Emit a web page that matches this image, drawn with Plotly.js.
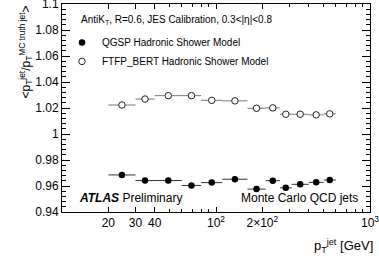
<!DOCTYPE html>
<html>
<head>
<meta charset="utf-8">
<script src="https://cdn.plot.ly/plotly-3.0.1.min.js"></script>
<style>html,body{margin:0;padding:0;background:#fff;}#chart{width:379px;height:260px;}</style>
</head>
<body>
<div id="chart"></div>
<script>
// Bin edges in pT [GeV]
const binLow  = [20, 30, 40, 60, 80, 110, 160, 210, 260, 310, 400, 500];
const binHigh = [30, 40, 60, 80, 110, 160, 210, 260, 310, 400, 500, 600];
// Bin centres
const ptCentre = [24.5, 34.6, 49, 69.3, 93.8, 132.7, 183.3, 233.7, 283.9, 352.1, 447.2, 547.7];
// QGSP hadronic shower model response
const qgsp = [0.9685, 0.9642, 0.9642, 0.9604, 0.9626, 0.9652, 0.9576, 0.9641, 0.9586, 0.9613, 0.9628, 0.9646];
const qgspErr = [0.0022, 0.0012, 0.0010, 0.0010, 0.0010, 0.0010, 0.0010, 0.0010, 0.0010, 0.0010, 0.0010, 0.0010];
// FTFP_BERT hadronic shower model response
const ftfp = [1.0223, 1.0269, 1.0295, 1.0295, 1.0259, 1.0255, 1.0198, 1.0201, 1.0152, 1.0152, 1.0147, 1.0155];
const ftfpErr = [0.0012, 0.0010, 0.0010, 0.0010, 0.0010, 0.0010, 0.0010, 0.0010, 0.0010, 0.0010, 0.0010, 0.0010];
// Axis ticks
const xTickVals = [20, 30, 40, 100, 200, 1000];
const xTickText = ['20', '30', '40', '10<sup>2</sup>', '2\u00d710<sup>2</sup>', '10<sup>3</sup>'];
const xMinorVals = [50, 60, 70, 80, 90, 300, 400, 500, 600, 700, 800, 900];
const yTickVals = [0.94, 0.96, 0.98, 1.0, 1.02, 1.04, 1.06, 1.08, 1.1];
const yTickText = ['0.94', '0.96', '0.98', '1', '1.02', '1.04', '1.06', '1.08', '1.1'];

const errPlus = ptCentre.map((c, i) => binHigh[i] - c);
const errMinus = ptCentre.map((c, i) => c - binLow[i]);

const FONT = 'Liberation Sans, Arial, Helvetica, sans-serif';

const traces = [
  {
    x: ptCentre, y: ftfp, type: 'scatter', mode: 'markers',
    name: 'FTFP_BERT Hadronic Shower Model',
    marker: {symbol: 'circle', size: 6.5, color: '#ffffff', line: {color: '#222', width: 1}},
    error_x: {type: 'data', symmetric: false, array: errPlus, arrayminus: errMinus, color: '#777', thickness: 1, width: 0},
    error_y: {type: 'data', array: ftfpErr, color: '#777', thickness: 1, width: 0},
    hoverinfo: 'skip'
  },
  {
    x: ptCentre, y: qgsp, type: 'scatter', mode: 'markers',
    name: 'QGSP Hadronic Shower Model',
    marker: {symbol: 'circle', size: 6.5, color: '#000000'},
    error_x: {type: 'data', symmetric: false, array: errPlus, arrayminus: errMinus, color: '#333', thickness: 1, width: 0},
    error_y: {type: 'data', array: qgspErr, color: '#333', thickness: 1, width: 0},
    hoverinfo: 'skip'
  }
];

const layout = {
  width: 379, height: 260,
  margin: {l: 62, r: 9, t: 4, b: 48},
  paper_bgcolor: '#fff', plot_bgcolor: '#fff',
  font: {family: FONT, size: 12, color: '#000'},
  showlegend: true,
  legend: {
    x: 0.0, y: 0.885, xanchor: 'left', yanchor: 'top',
    traceorder: 'reversed',
    bgcolor: 'rgba(0,0,0,0)',
    font: {family: FONT, size: 10, color: '#000'},
    itemwidth: 30
  },
  xaxis: {
    type: 'log', range: [1, 3],
    showgrid: false, zeroline: false,
    showline: true, linecolor: '#000', linewidth: 1, mirror: 'ticks',
    ticks: 'inside', ticklen: 5, tickcolor: '#000', tickwidth: 1,
    tickmode: 'array', tickvals: xTickVals, ticktext: xTickText,
    tickfont: {family: FONT, size: 12, color: '#000'},
    ticklabeloverflow: 'allow',
    minor: {ticks: 'inside', ticklen: 3, tickcolor: '#000', tickmode: 'array', tickvals: xMinorVals},
    fixedrange: true
  },
  yaxis: {
    range: [0.94, 1.1],
    showgrid: false, zeroline: false,
    showline: true, linecolor: '#000', linewidth: 1, mirror: 'ticks',
    ticks: 'inside', ticklen: 8, tickcolor: '#000', tickwidth: 1,
    tickmode: 'array', tickvals: yTickVals, ticktext: yTickText,
    tickfont: {family: FONT, size: 12, color: '#000'},
    ticklabeloverflow: 'allow',
    minor: {ticks: 'inside', ticklen: 4, tickcolor: '#000', dtick: 0.004, tick0: 0.94},
    fixedrange: true
  },
  annotations: [
    {xref: 'paper', yref: 'paper', x: 0.055, y: 0.923, xanchor: 'left', yanchor: 'middle', showarrow: false,
     text: 'AntiK<sub>T</sub>, R=0.6, JES Calibration, 0.3&lt;|\u03b7|&lt;0.8', font: {family: FONT, size: 10}},
    {xref: 'paper', yref: 'paper', x: 0.05, y: 0.065, xanchor: 'left', yanchor: 'middle', showarrow: false,
     text: '<b><i>ATLAS</i></b> Preliminary', font: {family: FONT, size: 12}},
    {xref: 'paper', yref: 'paper', x: 0.969, y: 0.065, xanchor: 'right', yanchor: 'middle', showarrow: false,
     text: 'Monte Carlo QCD jets', font: {family: FONT, size: 12}},
    {xref: 'paper', yref: 'paper', x: 1.016, y: -0.165, xanchor: 'right', yanchor: 'middle', showarrow: false,
     text: 'p<sub>T</sub><sup>jet</sup> [GeV]', font: {family: FONT, size: 13}},
    {xref: 'paper', yref: 'paper', x: -0.12, y: 1.0, xanchor: 'center', yanchor: 'top', showarrow: false, textangle: -90,
     text: '&lt;p<sub>T</sub><sup>jet</sup>/p<sub>T</sub><sup>MC truth jet</sup>&gt;', font: {family: FONT, size: 12}}
  ]
};

Plotly.newPlot('chart', traces, layout, {staticPlot: true, displayModeBar: false});
</script>
</body>
</html>
